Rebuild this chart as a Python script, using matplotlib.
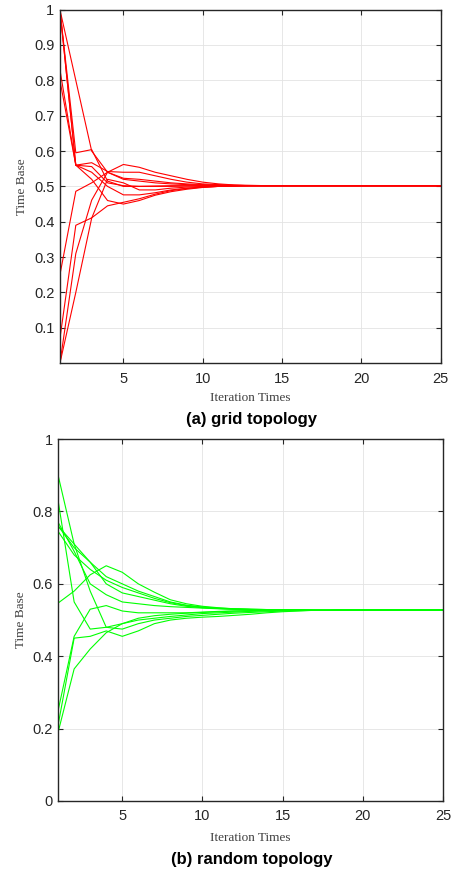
import numpy as np
import matplotlib.pyplot as plt

# iteration axis
iters = np.arange(1, 26)

# (a) grid topology: first 14 iterations per node, then the common flat tail
grid_head = [
    [1.00, 0.80, 0.60, 0.54, 0.52, 0.515, 0.51, 0.507, 0.505, 0.504, 0.503, 0.503, 0.502, 0.502],
    [1.00, 0.595, 0.604, 0.515, 0.50, 0.50, 0.501, 0.502, 0.502, 0.502, 0.502, 0.502, 0.502, 0.502],
    [1.00, 0.56, 0.567, 0.542, 0.54, 0.54, 0.53, 0.52, 0.512, 0.507, 0.505, 0.503, 0.502, 0.502],
    [0.83, 0.56, 0.54, 0.50, 0.476, 0.476, 0.482, 0.49, 0.495, 0.498, 0.50, 0.501, 0.502, 0.502],
    [0.80, 0.56, 0.52, 0.46, 0.45, 0.46, 0.475, 0.485, 0.492, 0.497, 0.50, 0.501, 0.502, 0.502],
    [0.25, 0.486, 0.51, 0.54, 0.562, 0.554, 0.54, 0.53, 0.52, 0.512, 0.507, 0.504, 0.503, 0.502],
    [0.07, 0.39, 0.411, 0.445, 0.455, 0.465, 0.478, 0.488, 0.494, 0.498, 0.50, 0.501, 0.502, 0.502],
    [0.00, 0.31, 0.461, 0.54, 0.523, 0.52, 0.515, 0.51, 0.507, 0.505, 0.503, 0.502, 0.502, 0.502],
    [0.00, 0.20, 0.41, 0.52, 0.51, 0.49, 0.49, 0.495, 0.498, 0.50, 0.501, 0.502, 0.502, 0.502],
    [1.00, 0.56, 0.556, 0.51, 0.502, 0.50, 0.50, 0.50, 0.501, 0.502, 0.502, 0.502, 0.502, 0.502],
]
grid_tail = [0.502, 0.502, 0.502, 0.502, 0.502, 0.502, 0.502, 0.502, 0.502, 0.502, 0.502]

# (b) random topology: first 16 iterations per node, then the common tail
rand_head = [
    [0.90, 0.71, 0.66, 0.60, 0.575, 0.565, 0.555, 0.545, 0.538, 0.534, 0.532, 0.530, 0.529, 0.528, 0.528, 0.528],
    [0.83, 0.55, 0.475, 0.48, 0.49, 0.50, 0.505, 0.51, 0.514, 0.518, 0.52, 0.522, 0.524, 0.525, 0.526, 0.527],
    [0.77, 0.69, 0.60, 0.57, 0.55, 0.545, 0.54, 0.537, 0.535, 0.533, 0.531, 0.53, 0.529, 0.528, 0.528, 0.528],
    [0.76, 0.70, 0.66, 0.62, 0.60, 0.58, 0.565, 0.55, 0.541, 0.536, 0.533, 0.531, 0.53, 0.529, 0.528, 0.528],
    [0.745, 0.68, 0.64, 0.61, 0.59, 0.575, 0.56, 0.548, 0.54, 0.535, 0.532, 0.53, 0.529, 0.528, 0.528, 0.528],
    [0.547, 0.58, 0.625, 0.65, 0.632, 0.60, 0.577, 0.556, 0.545, 0.538, 0.534, 0.531, 0.53, 0.529, 0.528, 0.528],
    [0.25, 0.455, 0.53, 0.54, 0.525, 0.52, 0.52, 0.52, 0.52, 0.522, 0.524, 0.525, 0.526, 0.527, 0.527, 0.527],
    [0.19, 0.365, 0.42, 0.465, 0.49, 0.505, 0.512, 0.516, 0.519, 0.521, 0.523, 0.525, 0.526, 0.527, 0.527, 0.527],
    [0.21, 0.45, 0.455, 0.47, 0.455, 0.47, 0.49, 0.50, 0.505, 0.508, 0.51, 0.513, 0.516, 0.52, 0.523, 0.525],
    [0.76, 0.71, 0.58, 0.48, 0.475, 0.49, 0.50, 0.505, 0.51, 0.513, 0.516, 0.519, 0.521, 0.523, 0.525, 0.526],
]
rand_tail = [0.527, 0.527, 0.528, 0.528, 0.528, 0.528, 0.528, 0.528, 0.528]

grid_yticks = [0.1, 0.2, 0.3, 0.4, 0.5, 0.6, 0.7, 0.8, 0.9, 1.0]
grid_ylabels = ['0.1', '0.2', '0.3', '0.4', '0.5', '0.6', '0.7', '0.8', '0.9', '1']
rand_yticks = [0, 0.2, 0.4, 0.6, 0.8, 1.0]
rand_ylabels = ['0', '0.2', '0.4', '0.6', '0.8', '1']
xticks = [5, 10, 15, 20, 25]

dark = '#262626'

fig = plt.figure(figsize=(4.54, 8.73), dpi=100)
ax1 = fig.add_axes([0.132, 0.584, 0.839, 0.405])
ax2 = fig.add_axes([0.128, 0.0825, 0.848, 0.4145])


def style_axes(ax, yticks, ylabels, xpad):
    ax.set_xlim(1, 25)
    ax.set_ylim(0, 1)
    ax.set_xticks(xticks)
    ax.set_xticklabels([str(t) for t in xticks], fontfamily='Liberation Sans')
    ax.set_yticks(yticks)
    ax.set_yticklabels(ylabels, fontfamily='Liberation Sans')
    ax.tick_params(direction='in', top=True, right=True, length=3.5, width=0.8,
                   colors=dark, labelsize=10.5)
    ax.tick_params(axis='x', pad=6)
    ax.tick_params(axis='y', pad=4)
    ax.grid(True, color='#e3e3e3', linewidth=0.6)
    ax.set_axisbelow(True)
    for s in ax.spines.values():
        s.set_color(dark)
        s.set_linewidth(1.0)
    ax.set_xlabel('Iteration Times', fontfamily='Liberation Serif', fontsize=9.5,
                  color='#404040', labelpad=xpad)
    ax.set_ylabel('Time Base', fontfamily='Liberation Serif', fontsize=9.5,
                  color='#404040', labelpad=4)


# ===================== (a) grid topology =====================
for head in grid_head:
    ax1.plot(iters, head + grid_tail, color='#ff0000', linewidth=0.8)
style_axes(ax1, grid_yticks, grid_ylabels, 5)
fig.text(0.555, 0.519, '(a) grid topology', ha='center', va='center',
         fontsize=12, fontweight='bold', fontfamily='Liberation Sans')

# ===================== (b) random topology =====================
for head in rand_head:
    ax2.plot(iters, head + rand_tail, color='#00ff00', linewidth=0.8)
style_axes(ax2, rand_yticks, rand_ylabels, 6)
fig.text(0.555, 0.0155, '(b) random topology', ha='center', va='center',
         fontsize=12, fontweight='bold', fontfamily='Liberation Sans')

plt.savefig('out.png', dpi=100)
plt.close()
